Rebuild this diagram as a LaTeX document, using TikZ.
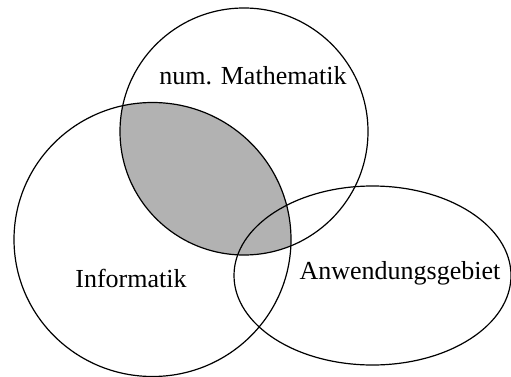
\documentclass[tikz,border=0pt]{standalone}
\usepackage{fontspec}
\setmainfont{Liberation Serif}

\begin{document}
\begin{tikzpicture}[x=1pt, y=-1pt,
  outline/.style={draw, line width=1.2pt},
  overlap/.style={fill=black!30},
  areatext/.style={font=\fontsize{26}{30}\selectfont, anchor=base, inner sep=0pt},
]
  \useasboundingbox (0,0) rectangle (511,377);

  \coordinate (mathc) at (244,131.5);
  \coordinate (infoc) at (152.5,239.5);
  \coordinate (applc) at (372.5,275.5);

  % shared part of the two circles
  \begin{scope}
    \clip (mathc) ellipse[x radius=124pt, y radius=123.5pt];
    \fill[overlap] (infoc) ellipse[x radius=138.5pt, y radius=137pt];
  \end{scope}

  \draw[outline] (mathc) ellipse[x radius=124pt, y radius=123.5pt];
  \draw[outline] (infoc) ellipse[x radius=138.5pt, y radius=137pt];
  \draw[outline] (applc) ellipse[x radius=138.5pt, y radius=89.5pt];

  \node[areatext] (math) at (253,85) {num. Mathematik};
  \node[areatext] (info) at (131,287) {Informatik};
  \node[areatext] (appl) at (400,279) {Anwendungsgebiet};
\end{tikzpicture}
\end{document}
